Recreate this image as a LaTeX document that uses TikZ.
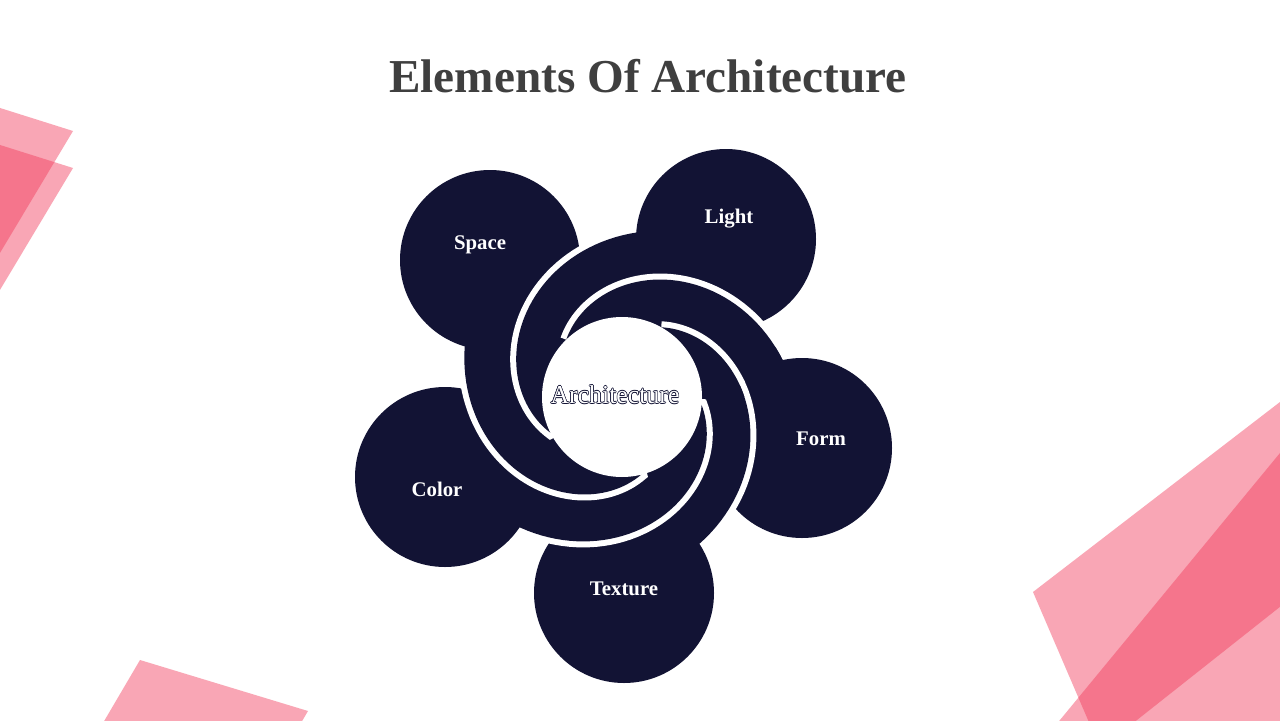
\documentclass[tikz,border=0pt]{standalone}
\usepackage{fontspec}
\setmainfont{Liberation Serif}
\usetikzlibrary{calc}
\definecolor{navy}{HTML}{121334}
\definecolor{titlegray}{HTML}{3F3F3F}
\definecolor{pinkbase}{RGB}{242,59,91}
\newcommand\bandpath[1]{(0,0) -- plot[domain=0:150,samples=60,variable=\dd] ({#1+150-\dd}:{80+0.7*\dd}) -- cycle}
\newcommand\unitshape[2]{%
  \fill[white,draw=white,line width=6pt] \bandpath{#1};
  \fill[white,draw=white,line width=6pt] (#2) circle[radius=90];
  \fill[navy] \bandpath{#1};
  \fill[navy] (#2) circle[radius=90];
}
% #1 petal angle, #2 fill extent, #3 outline extent (shorter than #2)
\newcommand\partband[3]{%
  \draw[white,line width=6pt] plot[domain=0:#3,samples=50,variable=\dd] ({#1+150-\dd}:{80+0.7*\dd});
  \fill[navy] (0,0) -- plot[domain=0:#2,samples=50,variable=\dd] ({#1+150-\dd}:{80+0.7*\dd}) -- cycle;
}
\tikzset{
  pinkshape/.style={fill=pinkbase, fill opacity=0.45},
  lbl/.style={text=white, font=\fontsize{10.4pt}{12pt}\selectfont\bfseries, anchor=base, inner sep=0pt},
  ctext/.style={font=\fontsize{12.9pt}{15pt}\selectfont, anchor=base, inner sep=0pt},
  ttl/.style={text=titlegray, font=\fontsize{23.6pt}{28pt}\selectfont\bfseries, anchor=base, inner sep=0pt}
}
\begin{document}
\begin{tikzpicture}[x=0.5pt,y=0.5pt]
\useasboundingbox (0,0) rectangle (1280,720);
\fill[white] (0,0) rectangle (1280,720);
\begin{scope}
\clip (0,0) rectangle (1280,720);
\fill[pinkshape] (-30,621.5) -- (73,589) -- (-30,417) -- cycle;
\fill[pinkshape] (-30,584.5) -- (73,552) -- (-30,380) -- cycle;
\fill[pinkshape] (140,60) -- (308,9) -- (291,-20) -- (93,-20) -- cycle;
\fill[pinkshape] (1300,333.4) -- (1033,128) -- (1096.6,-20) -- (1111.7,-20) -- (1300,129) -- cycle;
\fill[pinkshape] (1300,291.3) -- (1043.5,-20) -- (1300,-20) -- cycle;
\end{scope}
\node[ttl] (title) at (648,628) {Elements Of Architecture};
\begin{scope}[shift={(622,323)}]
\unitshape{-15.8}{180,-51}
\unitshape{-89.4}{2,-196}
\unitshape{204.3}{-177,-80}
\unitshape{133.9}{-132,137}
\unitshape{56.6}{104,158}
\partband{-15.8}{126.2}{116.2}
\partband{-89.4}{60.6}{54.6}
\fill[white] (0,0) circle[radius=80];
\end{scope}
\foreach \a in {0,45,...,315}{
  \node[ctext, text=navy] at ($(615,316.5)+(\a:0.6)$) {Architecture};
}
\node[ctext, text=white] (centre) at (615,316.5) {Architecture};
\node[lbl] (space) at (480,471) {Space};
\node[lbl] (light) at (729,497) {Light};
\node[lbl] (form) at (821,275) {Form};
\node[lbl] (texture) at (624,125) {Texture};
\node[lbl] (color) at (437,224) {Color};
\end{tikzpicture}
\end{document}
